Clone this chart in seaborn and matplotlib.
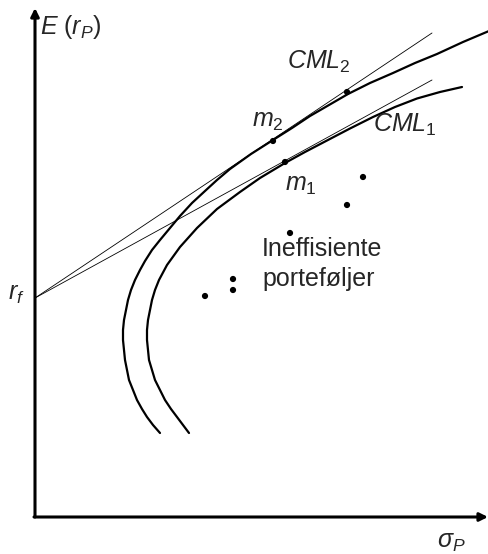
import matplotlib
matplotlib.use("Agg")
import matplotlib.pyplot as plt
import seaborn as sns
import pandas as pd

# Frontier curves (sigma, expected return)
frontier2_sigma = [125, 118, 112, 107, 102, 98, 94, 92, 90, 89, 88, 88, 89, 91, 93, 96, 100, 105, 110,
                   117, 125, 135, 145, 157, 170, 182, 195, 216, 238, 257, 275, 294, 313, 335, 358,
                   380, 402, 428, 454]
frontier2_mu    = [84, 92, 100, 108, 117, 127, 137, 147, 157, 167, 177, 187, 197, 207, 217, 227, 237, 247, 256,
                   267, 277, 289, 301, 314, 326, 337, 348, 363, 377, 389, 401, 412, 423, 434, 444,
                   454, 463, 475, 486]
frontier1_sigma = [154, 148, 142, 136, 130, 125, 120, 117, 114, 113, 112, 112, 113, 115, 117, 120, 124,
                   132, 145, 162, 182, 205, 225, 250, 270, 292, 315, 338, 360, 382, 405, 427]
frontier1_mu    = [84, 92, 100, 108, 117, 127, 137, 147, 157, 167, 177, 187, 197, 207, 217, 227, 237,
                   252, 270, 289, 308, 325, 339, 354, 365, 376.5, 388.5, 400, 410, 418.5, 425, 430]

# Capital market lines from r_f
rf = 219
cml_sigma = [0, 397]
cml2_mu = [rf, 484]
cml1_mu = [rf, 437]

# Portfolios (dots)
dots_sigma = [238, 312, 250, 328, 312, 255, 198, 198, 170]
dots_mu    = [376, 425, 355, 340, 312, 284, 238, 227, 221]

sns.set_theme(style="white")
plt.rcParams['font.family'] = ['Liberation Sans', 'DejaVu Sans']
plt.rcParams['mathtext.fontset'] = 'custom'
plt.rcParams['mathtext.rm'] = 'Liberation Sans'
plt.rcParams['mathtext.it'] = 'Liberation Sans:italic'
plt.rcParams['mathtext.fallback'] = 'stixsans'

fig = plt.figure(figsize=(4.89, 5.54), dpi=100)
ax = fig.add_axes([0, 0, 1, 1])
ax.set_xlim(-35, 454)
ax.set_ylim(-37, 517)
ax.axis('off')

f1 = pd.DataFrame({'s': frontier1_sigma, 'm': frontier1_mu})
f2 = pd.DataFrame({'s': frontier2_sigma, 'm': frontier2_mu})
sns.lineplot(data=f1, x='s', y='m', sort=False, estimator=None, color='black', lw=1.6, ax=ax)
sns.lineplot(data=f2, x='s', y='m', sort=False, estimator=None, color='black', lw=1.6, ax=ax)

c2 = pd.DataFrame({'s': cml_sigma, 'm': cml2_mu})
c1 = pd.DataFrame({'s': cml_sigma, 'm': cml1_mu})
sns.lineplot(data=c2, x='s', y='m', sort=False, estimator=None, color='black', lw=0.6, ax=ax)
sns.lineplot(data=c1, x='s', y='m', sort=False, estimator=None, color='black', lw=0.6, ax=ax)

d = pd.DataFrame({'s': dots_sigma, 'm': dots_mu})
sns.scatterplot(data=d, x='s', y='m', color='black', s=20, edgecolor='none', ax=ax, zorder=5)

# Axes with arrows
arrow = dict(arrowstyle='-|>', lw=2.2, color='black', mutation_scale=12, shrinkA=0, shrinkB=0)
ax.annotate('', xy=(0, 509), xytext=(0, 0), arrowprops=arrow)
ax.annotate('', xy=(453, 0), xytext=(-1, 0), arrowprops=arrow)

fs = 18
ax.text(5, 490, r'$E\ (r_P)$', fontsize=fs, va='center', ha='left')
ax.text(-10, 223, r'$r_f$', fontsize=fs, va='center', ha='right')
ax.text(402, -25, r'$\sigma_P$', fontsize=fs, va='center', ha='left')
ax.text(252, 455, r'$CML_2$', fontsize=fs, va='center', ha='left')
ax.text(338, 392, r'$CML_1$', fontsize=fs, va='center', ha='left')
ax.text(217, 396, r'$m_2$', fontsize=fs, va='center', ha='left')
ax.text(250, 332, r'$m_1$', fontsize=fs, va='center', ha='left')
ax.text(227, 268, 'Ineffisiente', fontsize=fs, va='center', ha='left')
ax.text(227, 238, 'porteføljer', fontsize=fs, va='center', ha='left')

fig.savefig('out.png', dpi=100)
